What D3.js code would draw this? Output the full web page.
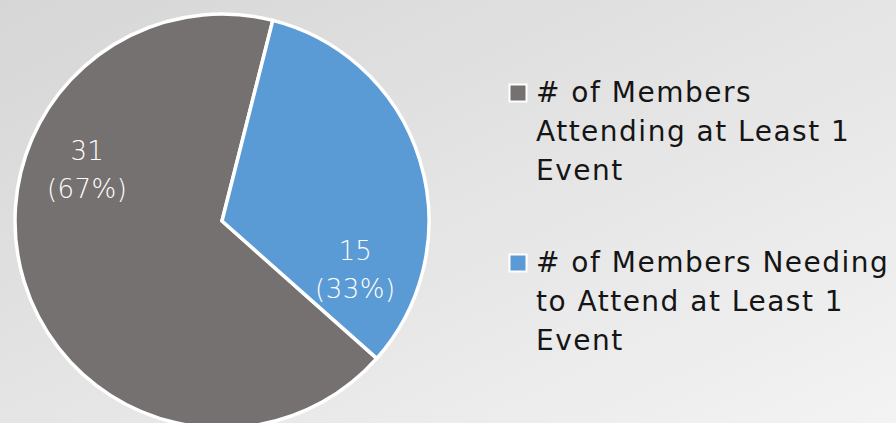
<!DOCTYPE html>
<html>
<head>
<meta charset="utf-8">
<script src="https://cdn.jsdelivr.net/npm/d3@7"></script>
<style>
    body { margin: 0; overflow: hidden; }
    svg { display: block; font-family: "DejaVu Sans", sans-serif; }
</style>
</head>
<body>
<div class="pie-chart"></div>
<script>
const width = 896
const height = 423

// chart data
const categories = ["# of Members Attending at Least 1 Event", "# of Members Needing to Attend at Least 1 Event"]
const values = [31, 15]
const legendLines = [
    ["# of Members", "Attending at Least 1", "Event"],
    ["# of Members Needing", "to Attend at Least 1", "Event"]
]
const colors = ["#767171", "#5b9bd5"]

const cx = 222
const cy = 221
const radius = 207

const total = d3.sum(values)
const data = categories.map((c, i) => ({ name: c, value: values[i], lines: legendLines[i] }))

const svg = d3.select(".pie-chart")
    .append("svg")
    .attr("width", width)
    .attr("height", height)

const defs = svg.append("defs")
const grad = defs.append("linearGradient")
    .attr("id", "bg")
    .attr("x1", "0").attr("y1", "0")
    .attr("x2", "1").attr("y2", "1")
grad.append("stop").attr("offset", "0%").attr("stop-color", "#d6d6d6")
grad.append("stop").attr("offset", "55%").attr("stop-color", "#e6e6e6")
grad.append("stop").attr("offset", "100%").attr("stop-color", "#f3f3f3")

svg.append("rect")
    .attr("width", width)
    .attr("height", height)
    .attr("fill", "url(#bg)")

const color = d3.scaleOrdinal()
    .domain(categories)
    .range(colors)

const start = 131.6 * Math.PI / 180
const pie = d3.pie()
    .value(d => d.value)
    .sort(null)
    .startAngle(start)
    .endAngle(start + 2 * Math.PI)

const arc = d3.arc()
    .innerRadius(0)
    .outerRadius(radius)

const arcs = pie(data)

const g = svg.append("g")
    .attr("transform", `translate(${cx}, ${cy})`)

g.selectAll("path")
    .data(arcs)
    .join("path")
    .attr("d", arc)
    .attr("fill", d => color(d.data.name))
    .attr("stroke", "#ffffff")
    .attr("stroke-width", 3.5)
    .attr("stroke-linejoin", "miter")

// data labels (shifted from the centroid the way the original app placed them)
const labelPlace = [{ angle: 287, r: 141 }, { angle: 114, r: 146 }]
const labels = g.selectAll("g.label")
    .data(arcs)
    .join("g")
    .attr("class", "label")
    .attr("transform", (d, i) => {
        const a = labelPlace[i].angle * Math.PI / 180
        const r = labelPlace[i].r
        return `translate(${Math.sin(a) * r}, ${-Math.cos(a) * r})`
    })

labels.append("text")
    .attr("y", -20)
    .attr("text-anchor", "middle")
    .attr("fill", "#ffffff")
    .attr("font-size", 26)
    .attr("font-weight", 300)
    .text(d => d.data.value)

labels.append("text")
    .attr("y", 18)
    .attr("text-anchor", "middle")
    .attr("fill", "#ffffff")
    .attr("font-size", 26)
    .attr("font-weight", 300)
    .attr("letter-spacing", 0.5)
    .text(d => `(${d3.format(".0%")(d.data.value / total)})`)

// legend
const legendY = d3.scaleBand()
    .domain(categories)
    .range([83, 423])

const legend = svg.append("g")
    .selectAll("g")
    .data(data)
    .join("g")
    .attr("transform", d => `translate(508, ${legendY(d.name)})`)

legend.append("rect")
    .attr("x", 1.5)
    .attr("y", 1.5)
    .attr("width", 17)
    .attr("height", 17)
    .attr("fill", d => color(d.name))
    .attr("stroke", "#ffffff")
    .attr("stroke-width", 2)

legend.selectAll("text")
    .data(d => d.lines)
    .join("text")
    .attr("x", 28)
    .attr("y", (d, i) => 19 + i * 39)
    .attr("fill", "#151515")
    .attr("font-size", 28)
    .attr("letter-spacing", 1.5)
    .text(d => d)
</script>
</body>
</html>
